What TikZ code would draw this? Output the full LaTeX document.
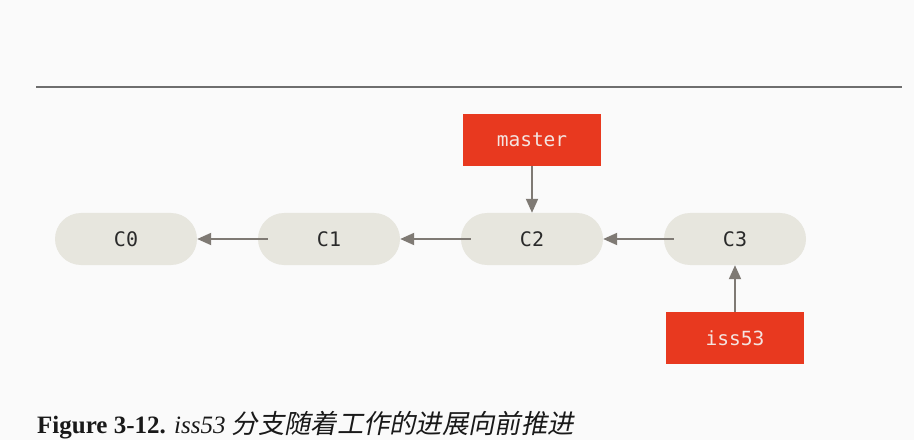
\documentclass[tikz,border=0pt]{standalone}
\usepackage{fontspec}
\setmainfont{Liberation Serif}
\setmonofont{DejaVu Sans Mono}
\newfontfamily\cjkit[FakeSlant=0.2]{Noto Sans CJK SC}
\usetikzlibrary{arrows.meta}
\definecolor{bgc}{HTML}{FAFAFA}
\definecolor{pillc}{HTML}{E7E6DE}
\definecolor{refc}{HTML}{E8391F}
\definecolor{arrc}{HTML}{7F7A74}
\definecolor{rulec}{HTML}{6E6E6E}
\definecolor{txtc}{HTML}{2A2A2A}
\definecolor{reftxt}{HTML}{F4E4E0}
\tikzset{
  commit/.style={fill=pillc, rounded corners=26pt, minimum width=142pt, minimum height=52pt,
    inner sep=0pt, font=\fontsize{20}{22}\selectfont\ttfamily, text=txtc},
  branchref/.style={fill=refc, minimum width=138pt, minimum height=52pt, inner sep=0pt,
    font=\fontsize{19.5}{22}\selectfont\ttfamily, text=reftxt},
  link/.style={draw=arrc, line width=2pt, -{Triangle[length=14pt,width=12pt]}},
}
\begin{document}
\begin{tikzpicture}[x=1pt,y=1pt]
  \path[fill=bgc, use as bounding box] (0,0) rectangle (914,440);
  \coordinate (rl) at (36,353);
  \coordinate (rr) at (902,353);
  \draw[rulec, line width=2pt] (rl) -- (rr);
  \node[commit] (c0) at (126,201) {C0};
  \node[commit] (c1) at (329,201) {C1};
  \node[commit] (c2) at (532,201) {C2};
  \node[commit] (c3) at (735,201) {C3};
  \node[branchref] (master) at (532,300) {master};
  \node[branchref] (iss) at (735,102) {iss53};
  \draw[link] ([xshift=10pt]c1.west) -- (c0.east);
  \draw[link] ([xshift=10pt]c2.west) -- (c1.east);
  \draw[link] ([xshift=10pt]c3.west) -- (c2.east);
  \draw[link] (master.south) -- (c2.north);
  \draw[link] (iss.north) -- (c3.south);
  \node[anchor=base west, inner sep=0pt, font=\fontsize{25}{28}\selectfont, text=black!90] (cap) at (37,7)
    {\textbf{Figure 3-12.} \textit{iss53} {\cjkit\fontsize{26.3}{28}\selectfont 分支随着工作的进展向前推进}};
\end{tikzpicture}
\end{document}
